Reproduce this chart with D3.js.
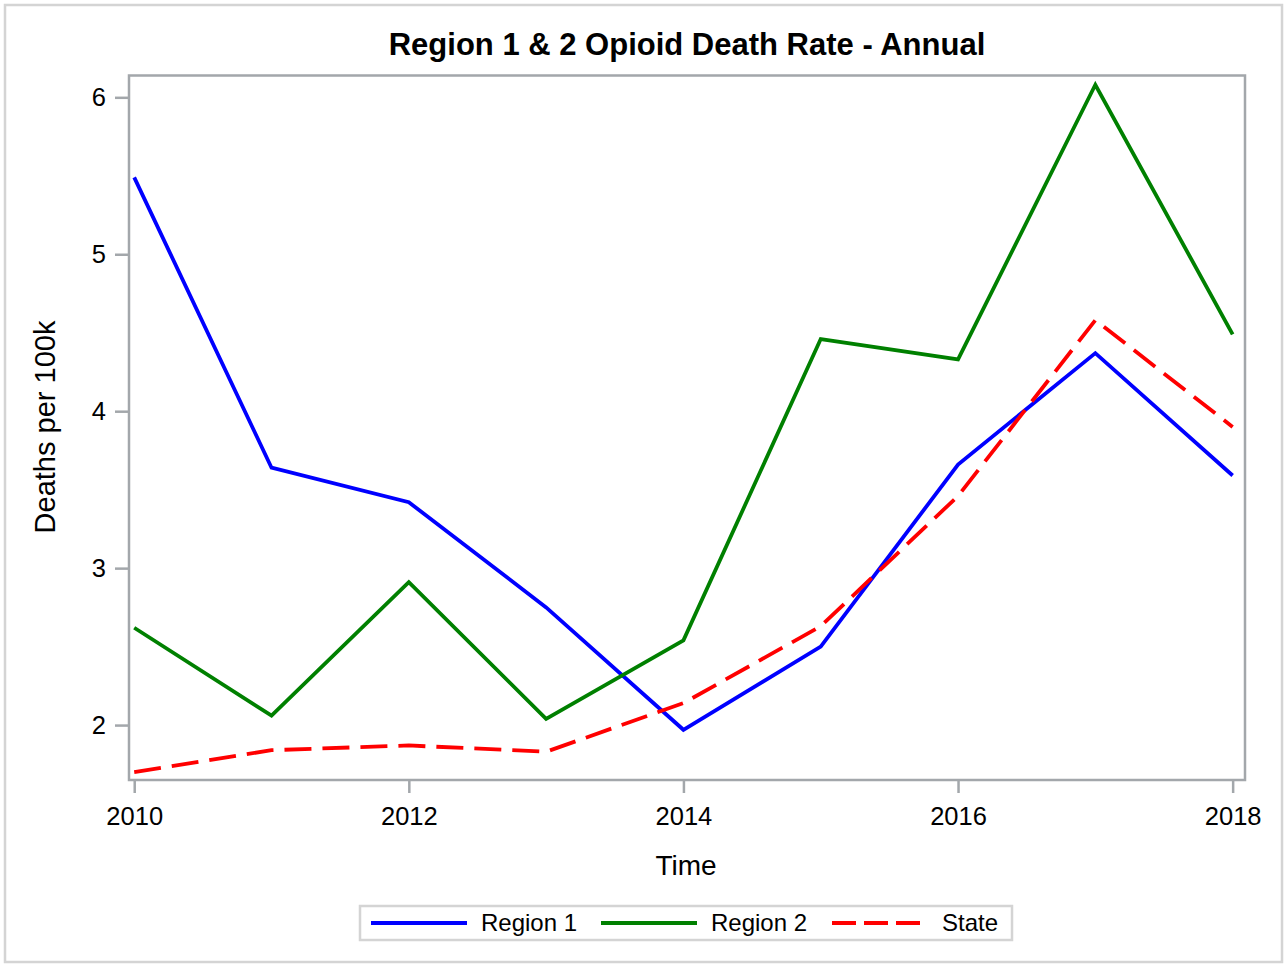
<!DOCTYPE html>
<html>
<head>
<meta charset="utf-8">
<script src="https://cdn.jsdelivr.net/npm/d3@7"></script>
<style>
  body { margin: 0; background: #fff; }
  svg text { font-family: "Liberation Sans", Arial, sans-serif; fill: #000; }
</style>
</head>
<body>
<div id="chart"></div>
<script>
// data
var years = [2010, 2011, 2012, 2013, 2014, 2015, 2016, 2017, 2018];
var region1 = [5.49, 3.64, 3.42, 2.75, 1.97, 2.50, 3.66, 4.37, 3.59];
var region2 = [2.62, 2.06, 2.91, 2.04, 2.54, 4.46, 4.33, 6.08, 4.49];
var state = [1.70, 1.84, 1.87, 1.83, 2.14, 2.63, 3.46, 4.58, 3.90];
var xTicks = [2010, 2012, 2014, 2016, 2018];
var yTicks = [2, 3, 4, 5, 6];
var seriesNames = ["Region 1", "Region 2", "State"];

var svgWidth = 1287;
var svgHeight = 967;

var margin = { top: 75.5, right: 42, bottom: 187, left: 129 };
var width = svgWidth - margin.left - margin.right;
var height = svgHeight - margin.top - margin.bottom;

var svg = d3.select("#chart")
  .append("svg")
  .attr("width", svgWidth)
  .attr("height", svgHeight);

// outer border
svg.append("rect")
  .attr("x", 5).attr("y", 5)
  .attr("width", svgWidth - 10).attr("height", svgHeight - 10)
  .attr("fill", "none")
  .attr("stroke", "#d4d4d4")
  .attr("stroke-width", 2.5);

var chartGroup = svg.append("g")
  .attr("transform", `translate(${margin.left}, ${margin.top})`);

var xScale = d3.scaleLinear()
  .domain([2009.962, 2018.09])
  .range([0, width]);

var yScale = d3.scaleLinear()
  .domain([1.65, 6.139])
  .range([height, 0]);

var xAxis = d3.axisBottom(xScale).tickValues(xTicks).tickFormat(d3.format("d"))
  .tickSizeInner(13).tickSizeOuter(0).tickPadding(14);
var yAxis = d3.axisLeft(yScale).tickValues(yTicks).tickFormat(d3.format("d"))
  .tickSizeInner(14).tickSizeOuter(0).tickPadding(9);

var xg = chartGroup.append("g")
  .attr("transform", `translate(0, ${height})`)
  .call(xAxis);
var yg = chartGroup.append("g")
  .call(yAxis);

[xg, yg].forEach(function(g) {
  g.select(".domain").remove();
  g.selectAll(".tick line").attr("stroke", "#a3a7ab").attr("stroke-width", 2.5);
  g.selectAll(".tick text")
    .attr("font-size", "25.5px")
    .style("font-family", "'Liberation Sans', Arial, sans-serif")
    .attr("fill", "#000");
});

// plot frame
chartGroup.append("rect")
  .attr("width", width).attr("height", height)
  .attr("fill", "none")
  .attr("stroke", "#a3a7ab")
  .attr("stroke-width", 2.5);

var line = d3.line()
  .x((d, i) => xScale(years[i]))
  .y(d => yScale(d));

var series = [
  { name: seriesNames[0], values: region1, color: "#0000ff", dash: null },
  { name: seriesNames[1], values: region2, color: "#008000", dash: null },
  { name: seriesNames[2], values: state, color: "#ff0000", dash: "27,11" }
];

chartGroup.selectAll(".series")
  .data(series)
  .enter()
  .append("path")
  .attr("class", "series")
  .attr("d", d => line(d.values))
  .attr("fill", "none")
  .attr("stroke", d => d.color)
  .attr("stroke-width", 3.8)
  .attr("stroke-dasharray", d => d.dash);

// title
svg.append("text")
  .attr("x", 687)
  .attr("y", 55)
  .attr("text-anchor", "middle")
  .attr("font-size", "31px")
  .attr("font-weight", "bold")
  .text("Region 1 & 2 Opioid Death Rate - Annual");

// axis labels
svg.append("text")
  .attr("x", 686)
  .attr("y", 875)
  .attr("text-anchor", "middle")
  .attr("font-size", "28px")
  .text("Time");

svg.append("text")
  .attr("transform", "translate(55, 427) rotate(-90)")
  .attr("text-anchor", "middle")
  .attr("font-size", "29px")
  .text("Deaths per 100k");

// legend
var legend = svg.append("g");
legend.append("rect")
  .attr("x", 360).attr("y", 906)
  .attr("width", 652).attr("height", 34)
  .attr("fill", "none")
  .attr("stroke", "#d4d4d4")
  .attr("stroke-width", 2.5);

var legendX = [371, 601, 832];
series.forEach(function(s, i) {
  legend.append("line")
    .attr("x1", legendX[i]).attr("x2", legendX[i] + 96)
    .attr("y1", 923).attr("y2", 923)
    .attr("stroke", s.color)
    .attr("stroke-width", 3.8)
    .attr("stroke-dasharray", s.dash ? "24,8" : null);
  legend.append("text")
    .attr("x", legendX[i] + 110)
    .attr("y", 931)
    .attr("font-size", "24px")
    .text(s.name);
});
</script>
</body>
</html>
